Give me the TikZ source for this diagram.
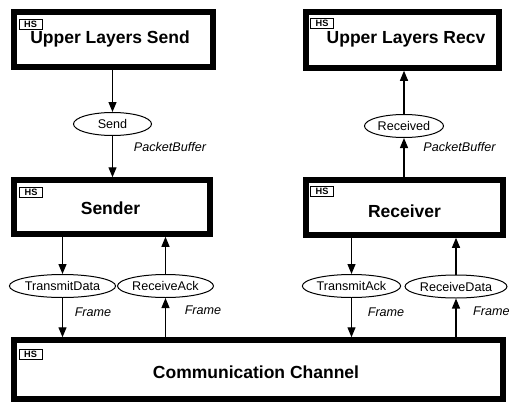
\documentclass[tikz,border=0pt]{standalone}
\usepackage{fontspec}
\setmainfont{Liberation Sans}
\usetikzlibrary{arrows.meta,shapes.geometric}
\begin{document}
\begin{tikzpicture}[x=1pt,y=-1pt,
  subst/.style={draw,line width=5.5pt,inner sep=0pt},
  title/.style={font=\fontsize{17.5}{20}\selectfont\bfseries,inner sep=0pt},
  hstag/.style={draw,line width=0.8pt,inner sep=0pt,minimum width=23pt,minimum height=10pt,font=\fontsize{9.2}{10}\selectfont\bfseries},
  place/.style={draw,ellipse,line width=1pt,inner sep=0pt,minimum height=23pt,font=\fontsize{12.6}{14}\selectfont},
  lab/.style={font=\fontsize{12.6}{14}\selectfont\itshape,inner sep=0pt},
  arr/.style={line width=1.2pt,-{Triangle[length=10pt,width=8pt]}}]
\useasboundingbox (0,0) rectangle (509,402);
% substitution transition boxes (centerline)
\node[subst,minimum width=199pt,minimum height=55pt] (uls) at (113.5,39.5) {};
\node[subst,minimum width=193pt,minimum height=56pt] (ulr) at (402.5,40) {};
\node[subst,minimum width=196pt,minimum height=54pt] (snd) at (112,207) {};
\node[subst,minimum width=197pt,minimum height=55pt] (rcv) at (404.5,207.5) {};
\node[subst,minimum width=489pt,minimum height=59pt] (cc) at (258.5,369.5) {};
% titles
\node[title] (tuls) at (110,39) {Upper Layers Send};
\node[title] (tulr) at (406,39) {Upper Layers Recv};
\node[title] (tsnd) at (110.5,208) {Sender};
\node[title] (trcv) at (404.5,211) {Receiver};
\node[title] (tcc) at (256,372) {Communication Channel};
% HS tags
\node[hstag] (hs1) at (30.5,24) {HS};
\node[hstag] (hs2) at (322,23) {HS};
\node[hstag] (hs3) at (31,192) {HS};
\node[hstag] (hs4) at (322,191) {HS};
\node[hstag] (hs5) at (30.5,354) {HS};
% places
\node[place,minimum width=78pt] (send) at (112.5,124) {Send};
\node[place,minimum width=79pt] (recd) at (404,126) {Received};
\node[place,minimum width=101pt] (td) at (62.5,286) {TransmitData};
\node[place,minimum width=96pt] (ra) at (165.5,286) {ReceiveAck};
\node[place,minimum width=96pt] (ta) at (351.5,286) {TransmitAck};
\node[place,minimum width=96pt] (rd) at (456,286.5) {ReceiveData};
% colour set labels
\node[lab] (l1) at (170,147) {PacketBuffer};
\node[lab] (l2) at (459.5,147) {PacketBuffer};
\node[lab] (l3) at (93,312) {Frame};
\node[lab] (l4) at (203,310) {Frame};
\node[lab] (l5) at (386,312) {Frame};
\node[lab,anchor=west] (l6) at (473,311) {Frame};
% arcs
\draw[arr] (uls.south -| send) -- (send.north);
\draw[arr] (send.south) -- (send.south |- snd.north);
\draw[arr] (recd.north) -- (recd.north |- ulr.south);
\draw[arr] (rcv.north -| recd) -- (recd.south);
\draw[arr] (snd.south -| td) -- (td.north);
\draw[arr] (td.south) -- (td.south |- cc.north);
\draw[arr] (ra.north) -- (ra.north |- snd.south);
\draw[arr] (cc.north -| ra) -- (ra.south);
\draw[arr] (rcv.south -| ta) -- (ta.north);
\draw[arr] (ta.south) -- (ta.south |- cc.north);
\draw[arr] (rd.north) -- (rd.north |- rcv.south);
\draw[arr] (cc.north -| rd) -- (rd.south);
\end{tikzpicture}
\end{document}
